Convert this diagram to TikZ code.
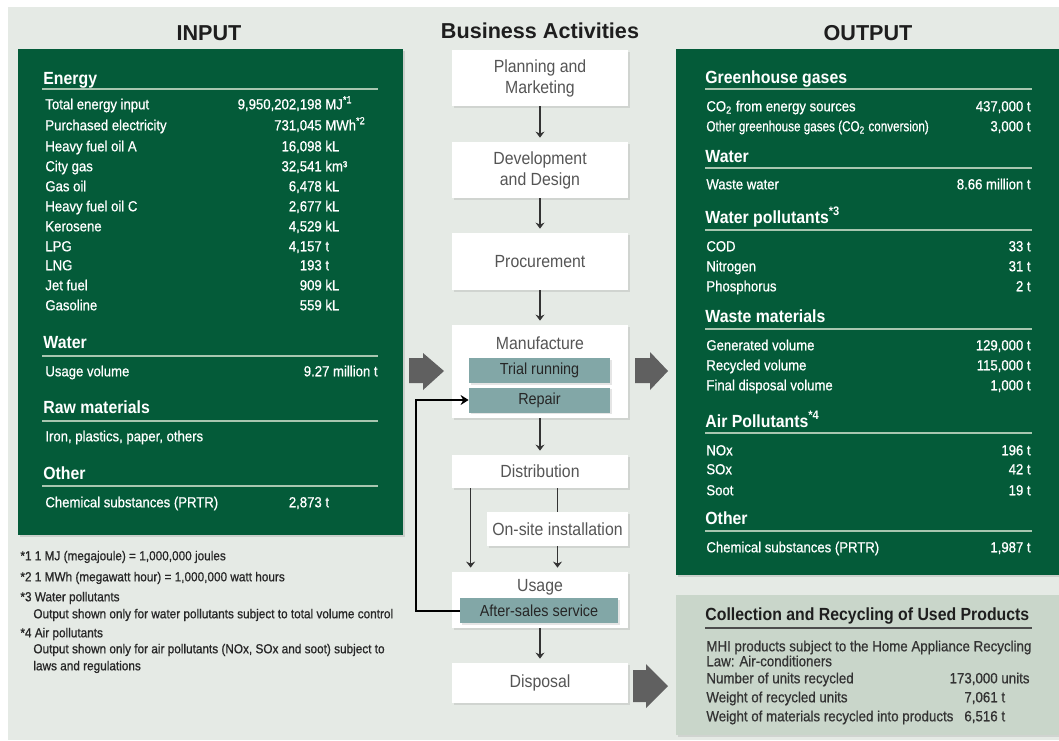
\documentclass[tikz,border=0pt]{standalone}
\usepackage{fontspec}
\setmainfont{Liberation Sans}
\newfontfamily\condfont{Liberation Sans}[FakeStretch=0.9]
\newfontfamily\heavyfont{Liberation Sans}[FakeStretch=0.9,FakeBold=0.7]
\newfontfamily\tightfont{Liberation Sans}[FakeStretch=0.8,FakeBold=0.7]
\usetikzlibrary{arrows.meta,calc,shadows}

\definecolor{paper}{HTML}{E5EAE5}
\definecolor{panelgreen}{HTML}{045B39}
\definecolor{rulegreen}{HTML}{A8C6B0}
\definecolor{recyclefill}{HTML}{C9D6CA}
\definecolor{subfill}{HTML}{82A7A7}
\definecolor{stageink}{HTML}{555555}
\definecolor{arrowgray}{HTML}{606060}
\definecolor{titleink}{HTML}{1E1E1E}

\begin{document}
\begin{tikzpicture}[x=0.5pt,y=-0.5pt,
  coltitle/.style={inner sep=0pt, font=\bfseries\fontsize{10.8}{13}\selectfont, text=titleink},
  head/.style={anchor=mid west, inner sep=0pt, font=\condfont\bfseries\fontsize{8.8}{10}\selectfont, text=white},
  item/.style={anchor=mid west, inner sep=0pt, font=\heavyfont\fontsize{7.3}{9}\selectfont, text=white},
  qty/.style={item, anchor=mid east},
  rule/.style={draw=rulegreen, line width=0.9pt},
  panel/.style={fill=panelgreen, drop shadow={shadow xshift=1pt, shadow yshift=-1pt, opacity=0.25}},
  stage/.style={fill=white, minimum width=88pt, inner sep=0pt, align=center, text=stageink,
    font=\condfont\fontsize{8.8}{10.5}\selectfont, drop shadow={shadow xshift=1pt, shadow yshift=-1pt, opacity=0.2}},
  stagelabel/.style={inner sep=0pt, text=stageink, font=\condfont\fontsize{8.8}{10.5}\selectfont},
  substage/.style={fill=subfill, minimum width=70.5pt, minimum height=12.5pt, inner sep=0pt,
    font=\condfont\fontsize{8}{9}\selectfont, text=black!85, drop shadow={shadow xshift=0.8pt, shadow yshift=-0.8pt, opacity=0.2}},
  flow/.style={-{Stealth[length=3pt,width=4.5pt]}, line width=0.6pt, draw=black!80, shorten >=2pt},
  loopback/.style={-{Stealth[length=4pt,width=5pt]}, line width=1pt},
  bigarrow/.style={fill=arrowgray},
  note/.style={anchor=mid west, inner sep=0pt, font=\heavyfont\fontsize{6.55}{8}\selectfont, text=black!85},
  recitem/.style={item, text=black!80, font=\heavyfont\fontsize{7.4}{9}\selectfont}]

  \useasboundingbox (0,0) rectangle (1059,740);
  \fill[paper] (8,7) rectangle (1059,740);

  % input side
  \node[coltitle] (intitle) at (209,33) {INPUT};
  \path[panel] (18,49) rectangle (403,535);

  \node[head] (energy) at (43,79) {Energy};
  \draw[rule] (42,89) -- (378,89);
  \node[item] (e1) at (45,104) {Total energy input};
  \node[item] (e1v) at (325,104) {\llap{9,950,202,198 }MJ\textsuperscript{*1}};
  \node[item] (e2) at (45,125) {Purchased electricity};
  \node[item] (e2v) at (325,125) {\llap{731,045 }MWh\textsuperscript{*2}};
  \node[item] (e3) at (45,146) {Heavy fuel oil A};
  \node[item] (e3v) at (325,146) {\llap{16,098 }kL};
  \node[item] (e4) at (45,166) {City gas};
  \node[item] (e4v) at (325,166) {\llap{32,541 }km³};
  \node[item] (e5) at (45,186) {Gas oil};
  \node[item] (e5v) at (325,186) {\llap{6,478 }kL};
  \node[item] (e6) at (45,206) {Heavy fuel oil C};
  \node[item] (e6v) at (325,206) {\llap{2,677 }kL};
  \node[item] (e7) at (45,226) {Kerosene};
  \node[item] (e7v) at (325,226) {\llap{4,529 }kL};
  \node[item] (e8) at (45,246) {LPG};
  \node[item] (e8v) at (325,246) {\llap{4,157 }t};
  \node[item] (e9) at (45,265) {LNG};
  \node[item] (e9v) at (325,265) {\llap{193 }t};
  \node[item] (e10) at (45,285) {Jet fuel};
  \node[item] (e10v) at (325,285) {\llap{909 }kL};
  \node[item] (e11) at (45,305) {Gasoline};
  \node[item] (e11v) at (325,305) {\llap{559 }kL};

  \node[head] (inwater) at (43,343) {Water};
  \draw[rule] (42,356) -- (378,356);
  \node[item] (w1) at (45,371) {Usage volume};
  \node[qty] (w1v) at (378,371) {9.27 million t};

  \node[head] (raw) at (43,408) {Raw materials};
  \draw[rule] (42,421) -- (378,421);
  \node[item] (r1) at (45,436) {Iron, plastics, paper, others};

  \node[head] (inother) at (43,474) {Other};
  \draw[rule] (42,486) -- (378,486);
  \node[item] (o1) at (45,502) {Chemical substances (PRTR)};
  \node[item] (o1v) at (325,502) {\llap{2,873 }t};

  % footnotes
  \node[note] (n1) at (20,555) {*1 1 MJ (megajoule) = 1,000,000 joules};
  \node[note] (n2) at (20,576) {*2 1 MWh (megawatt hour) = 1,000,000 watt hours};
  \node[note] (n3) at (20,596) {*3 Water pollutants};
  \node[note] (n3b) at (33,613) {Output shown only for water pollutants subject to total volume control};
  \node[note] (n4) at (20,632) {*4 Air pollutants};
  \node[note] (n4b) at (33,648) {Output shown only for air pollutants (NOx, SOx and soot) subject to};
  \node[note] (n4c) at (33,665) {laws and regulations};

  % business activities
  \node[coltitle] (biz) at (540,31) {Business Activities};
  \node[stage, minimum height=28pt] (plan) at (540,78) {Planning and\\Marketing};
  \node[stage, minimum height=28pt] (design) at (540,170) {Development\\and Design};
  \node[stage, minimum height=28.5pt] (procure) at (540,261.5) {Procurement};
  \node[stage, minimum height=46.5pt] (manu) at (540,371.5) {};
  \node[stagelabel] (manutext) at (540,343) {Manufacture};
  \node[substage] (trial) at (539.5,370.5) {Trial running};
  \node[substage] (repair) at (539.5,400) {Repair};
  \node[stage, minimum height=16.5pt] (distrib) at (540,471.5) {Distribution};
  \node[stage, minimum width=70.5pt, minimum height=17pt] (onsite) at (557.5,529) {On-site installation};
  \node[stage, minimum height=28pt] (usage) at (540,600) {};
  \node[stagelabel] (usagetext) at (540,587) {Usage};
  \node[substage, minimum width=79pt] (aftersales) at (539,610.5) {After-sales service};
  \node[stage, minimum height=20pt] (disposal) at (540,683) {Disposal};

  \draw[flow] (plan.south) -- (design.north);
  \draw[flow] (design.south) -- (procure.north);
  \draw[flow] (procure.south) -- (manu.north);
  \draw[flow] (manu.south) -- (distrib.north);
  \draw[flow] ($(distrib.south west)+(19,0)$) -- ($(usage.north west)+(19,0)$);
  \draw[line width=0.6pt, draw=black!80] (distrib.south -| onsite.north) -- (onsite.north);
  \draw[flow] (onsite.south) -- (onsite.south |- usage.north);
  \draw[flow] (usage.south) -- (disposal.north);
  \coordinate (bend) at (416,0);
  \draw[loopback] (aftersales.west) -| (bend |- repair.west) -- (repair.west);

  % big grey arrows
  \fill[bigarrow] (409,358) -- (423,358) -- (423,353) -- (444,371) -- (423,390) -- (423,383) -- (409,383) -- cycle;
  \fill[bigarrow] (635,358) -- (650,358) -- (650,352) -- (668,371) -- (650,390) -- (650,383) -- (635,383) -- cycle;
  \fill[bigarrow] (633,670) -- (646,670) -- (646,664) -- (668,686) -- (646,708) -- (646,702) -- (633,702) -- cycle;

  % output side
  \node[coltitle] (outtitle) at (868,33) {OUTPUT};
  \path[panel] (676,49) rectangle (1059,575);

  \node[head] (ghg) at (705,78) {Greenhouse gases};
  \draw[rule] (705,89) -- (1032,89);
  \node[item] (g1) at (706,106) {CO\textsubscript{2} from energy sources};
  \node[qty] (g1v) at (1031,106) {437,000 t};
  \node[item, font=\tightfont\fontsize{7.3}{9}\selectfont] (g2) at (706,126) {Other greenhouse gases (CO\textsubscript{2} conversion)};
  \node[qty] (g2v) at (1031,126) {3,000 t};

  \node[head] (outwater) at (705,157) {Water};
  \draw[rule] (705,168) -- (1032,168);
  \node[item] (ww) at (706,184) {Waste water};
  \node[qty] (wwv) at (1031,184) {8.66 million t};

  \node[head] (wpol) at (705,218) {Water pollutants\textsuperscript{*3}};
  \draw[rule] (705,230) -- (1032,230);
  \node[item] (p1) at (706,246) {COD};
  \node[qty] (p1v) at (1031,246) {33 t};
  \node[item] (p2) at (706,266) {Nitrogen};
  \node[qty] (p2v) at (1031,266) {31 t};
  \node[item] (p3) at (706,286) {Phosphorus};
  \node[qty] (p3v) at (1031,286) {2 t};

  \node[head] (waste) at (705,317) {Waste materials};
  \draw[rule] (705,329) -- (1032,329);
  \node[item] (m1) at (706,345) {Generated volume};
  \node[qty] (m1v) at (1031,345) {129,000 t};
  \node[item] (m2) at (706,365) {Recycled volume};
  \node[qty] (m2v) at (1031,365) {115,000 t};
  \node[item] (m3) at (706,385) {Final disposal volume};
  \node[qty] (m3v) at (1031,385) {1,000 t};

  \node[head] (apol) at (705,422) {Air Pollutants\textsuperscript{*4}};
  \draw[rule] (705,433) -- (1032,433);
  \node[item] (a1) at (706,450) {NOx};
  \node[qty] (a1v) at (1031,450) {196 t};
  \node[item] (a2) at (706,469) {SOx};
  \node[qty] (a2v) at (1031,469) {42 t};
  \node[item] (a3) at (706,490) {Soot};
  \node[qty] (a3v) at (1031,490) {19 t};

  \node[head] (outother) at (705,519) {Other};
  \draw[rule] (705,531) -- (1032,531);
  \node[item] (c1) at (706,547) {Chemical substances (PRTR)};
  \node[qty] (c1v) at (1031,547) {1,987 t};

  % used products
  \path[fill=recyclefill, drop shadow={shadow xshift=1pt, shadow yshift=-1pt, opacity=0.2}] (676,595) rectangle (1059,735);
  \node[head, text=titleink] (recycle) at (705,615) {Collection and Recycling of Used Products};
  \draw[line width=1.1pt, draw=black!70] (705,628) -- (1032,628);
  \node[recitem] (u1) at (706,646) {MHI products subject to the Home Appliance Recycling};
  \node[recitem] (u2) at (706,661) {Law: Air-conditioners};
  \node[recitem] (u3) at (706,678) {Number of units recycled};
  \node[recitem] (u3v) at (1001,678) {\llap{173,000 }units};
  \node[recitem] (u4) at (706,697) {Weight of recycled units};
  \node[recitem] (u4v) at (1001,697) {\llap{7,061 }t};
  \node[recitem] (u5) at (706,716) {Weight of materials recycled into products};
  \node[recitem] (u5v) at (1001,716) {\llap{6,516 }t};
\end{tikzpicture}
\end{document}
